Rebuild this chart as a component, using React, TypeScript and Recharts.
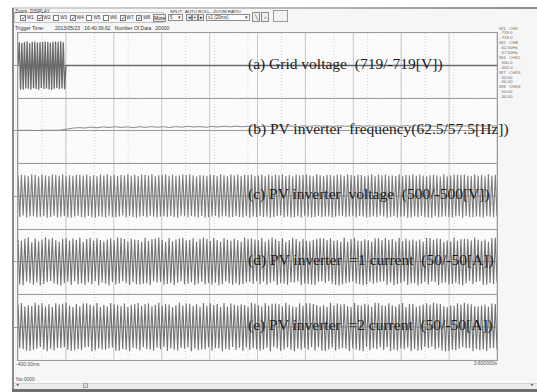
import React from 'react';
import { LineChart, Line, XAxis, YAxis, CartesianGrid, ReferenceLine } from 'recharts';

// ---------- data ----------
const timeRange: [number, number] = [-0.4, 3.6];
const majorTimeTicks = [-0.4, 0, 0.4, 0.8, 1.2, 1.6, 2.0, 2.4, 2.8, 3.2, 3.6];
const startLabel = '-400.00ms';
const endLabel = '3.600000s';

// (a) grid voltage, sampled from -0.4 s to 0 s, then flat
const gridVoltage = [
  0, 512, -528, 496, -534, 521, -507, 538, -516, 493, -530, 524,
  -502, 531, -519, 508, -536, 514, -497, 527, -522, 533, -510, 518,
  -529, 501, -535, 523, -512, 530, -498, 526, -517, 535, -506, 515, -524, 0,
];
const gridVoltageAfter = [0, 0];

// (b) PV inverter frequency [Hz], -0.4 s .. 3.6 s
const pvFrequency = [
  60.02, 60.01, 60.02, 60.0, 60.01, 60.02, 60.01, 60.03,
  60.1, 60.18, 60.22, 60.19, 60.26, 60.21, 60.28, 60.23, 60.29, 60.24, 60.28, 60.22,
  60.29, 60.24, 60.3, 60.25, 60.29, 60.23, 60.3, 60.26, 60.32, 60.27, 60.3, 60.25,
  60.31, 60.27, 60.33, 60.28, 60.34, 60.29, 60.32, 60.35, 60.3, 60.34, 60.31, 60.36,
  60.32, 60.35, 60.3, 60.36, 60.32, 60.37, 60.33, 60.35, 60.31, 60.36, 60.32, 60.35,
  60.37, 60.33, 60.36, 60.31, 60.37, 60.34, 60.35, 60.32, 60.37, 60.34, 60.36, 60.33,
  60.35, 60.32, 60.37, 60.34, 60.36, 60.33, 60.35, 60.34, 60.37, 60.34, 60.36, 60.35,
];

// (c) PV inverter voltage [V]
const pvVoltage = [
  305, -318, 322, -296, 314, -327, 300, -312, 329, -305,
  318, -322, 296, -315, 326, -308, 311, -330, 302, -319,
  324, -299, 316, -325, 307, -313, 331, -302, 298, -321,
  313, -328, 305, -310, 323, -297, 319, -316, 308, -326,
  327, -304, 301, -320, 315, -331, 298, -309, 325, -314,
  310, -323, 329, -300, 306, -318, 321, -327, 303, -311,
  319, -296, 312, -324, 330, -306, 297, -317, 322, -329,
  304, -313, 326, -302, 317, -320, 309, -298, 328, -315,
  299, -327, 314, -311, 323, -305, 331, -319, 307, -300,
  321, -316, 303, -328, 311, -297, 325, -308, 318, -322,
  328, -301, 309, -314, 296, -326, 316, -303, 312, -330,
  306, -320, 327, -309, 319, -299, 302, -324, 330, -312,
  315, -307, 298, -321, 324, -316, 310, -302, 326, -318,
  301, -325, 320, -306, 313, -329, 327, -311, 304, -317,
  312, -301, 327, -319, 298, -310, 322, -328, 307, -316,
  325, -304, 313, -297, 330, -321, 301, -312, 318, -326,
  296, -318, 324, -308, 311, -329, 316, -300, 327, -313,
  309, -325, 300, -317, 328, -303, 314, -322, 297, -311,
  323, -309, 318, -330, 305, -315, 326, -299, 320, -307,
  302, -321, 331, -312, 316, -298, 308, -327, 324, -304,
  317, -314, 299, -326, 312, -319, 329, -305, 300, -323,
  326, -297, 315, -310, 321, -328, 304, -316, 310, -301,
  303, -324, 328, -315, 297, -307, 319, -330, 313, -320,
  330, -308, 306, -322, 325, -302, 311, -318, 299, -327,
  314, -330, 320, -300, 309, -323, 296, -313, 328, -306,
  300, -317, 312, -325, 327, -311, 322, -304, 316, -329,
  324, -303, 308, -318, 301, -320, 330, -309, 305, -314,
  318, -326, 297, -307, 329, -315, 306, -321, 323, -310,
];

// (d) PV inverter #1 current [A]
const pvCurrent1 = [
  33.5, -35.2, 31.8, -36.4, 34.9, -30.7, 36.8, -33.1, 29.6, -35.8,
  35.4, -32.2, 30.9, -36.9, 33.7, -34.6, 37.1, -31.4, 34.2, -29.8,
  36.3, -33.9, 32.5, -35.5, 30.4, -36.7, 34.8, -32.9, 35.9, -31.1,
  31.7, -36.2, 35.3, -30.6, 33.2, -34.8, 36.9, -33.4, 29.9, -35.7,
  34.6, -31.9, 36.5, -35.1, 32.3, -30.2, 35.8, -36.6, 33.0, -32.4,
  30.8, -34.3, 33.9, -36.8, 35.6, -31.6, 32.7, -35.3, 37.0, -33.7,
  36.1, -30.5, 34.4, -33.6, 31.2, -36.1, 35.0, -32.0, 33.8, -34.9,
  32.9, -35.9, 30.3, -34.1, 36.6, -33.3, 31.5, -36.3, 34.7, -30.9,
  35.2, -32.7, 36.7, -31.3, 33.4, -35.6, 30.0, -34.4, 36.2, -33.0,
  31.0, -36.5, 34.0, -32.6, 35.5, -30.1, 36.4, -35.0, 32.1, -34.2,
  33.6, -31.8, 35.7, -36.0, 30.6, -33.8, 34.5, -31.2, 36.9, -35.4,
  34.8, -33.2, 31.4, -35.8, 36.3, -32.5, 33.1, -36.9, 30.5, -34.7,
  36.0, -30.8, 33.3, -34.0, 31.9, -35.9, 35.1, -33.5, 32.8, -36.2,
  30.2, -35.0, 36.8, -32.3, 34.1, -31.5, 35.4, -34.6, 33.7, -30.4,
  32.6, -34.9, 36.2, -31.1, 30.8, -35.6, 33.9, -32.8, 36.7, -30.3,
  34.3, -36.1, 31.6, -33.4, 35.7, -34.0, 30.1, -35.9, 33.2, -31.9,
  36.5, -32.4, 34.7, -30.9, 31.3, -36.6, 35.1, -33.7, 32.0, -34.5,
  30.7, -35.3, 33.6, -36.3, 34.9, -31.2, 36.1, -30.6, 35.4, -33.1,
  33.0, -30.2, 35.9, -34.2, 31.8, -35.7, 32.5, -36.9, 30.4, -34.8,
  36.9, -33.6, 30.6, -32.1, 34.6, -30.8, 36.4, -33.9, 31.7, -35.1,
  31.4, -36.4, 34.1, -35.3, 33.0, -31.5, 30.2, -34.3, 35.8, -32.6,
  35.6, -31.0, 32.8, -30.4, 36.0, -35.8, 33.5, -32.2, 34.4, -36.5,
  30.9, -34.6, 36.6, -33.2, 31.1, -30.7, 35.3, -36.0, 32.4, -33.8,
  34.0, -32.9, 31.2, -36.7, 33.7, -34.1, 30.5, -31.6, 36.3, -35.5,
  36.2, -30.6, 33.4, -31.9, 35.2, -36.2, 34.8, -33.0, 30.0, -32.3,
  32.1, -35.4, 30.9, -34.7, 36.8, -32.8, 31.9, -35.2, 34.2, -36.8,
  35.0, -33.5, 34.6, -30.1, 32.2, -34.9, 36.5, -31.4, 33.3, -30.5,
  31.5, -36.0, 33.8, -35.7, 30.3, -33.1, 35.9, -34.4, 36.4, -32.0,
];

// (e) PV inverter #2 current [A]
const pvCurrent2 = [
  34.2, -31.6, 36.3, -33.8, 30.9, -35.7, 33.1, -36.4, 31.8, -34.5,
  36.7, -32.9, 33.5, -30.4, 35.8, -34.1, 31.2, -36.8, 34.6, -33.0,
  30.6, -35.4, 36.1, -31.9, 33.9, -32.3, 35.2, -30.8, 36.9, -34.7,
  32.4, -36.2, 30.3, -35.1, 34.8, -33.6, 31.5, -34.9, 35.5, -31.2,
  35.9, -30.1, 34.0, -36.6, 32.2, -35.3, 36.4, -32.6, 30.7, -33.9,
  33.3, -34.4, 31.0, -32.1, 36.5, -30.9, 34.3, -35.8, 32.9, -36.1,
  31.6, -33.2, 35.6, -34.8, 30.2, -36.3, 33.7, -31.4, 35.0, -32.8,
  36.2, -35.5, 32.1, -30.6, 34.9, -33.4, 36.0, -34.2, 31.3, -35.9,
  33.8, -31.1, 36.6, -33.7, 32.5, -30.3, 35.3, -36.5, 34.1, -32.0,
  30.4, -34.6, 33.0, -35.6, 36.8, -31.7, 32.6, -33.1, 35.7, -30.7,
  35.1, -36.9, 31.9, -32.4, 34.4, -35.2, 30.8, -34.0, 36.3, -33.5,
  32.3, -30.5, 35.9, -36.0, 33.2, -31.8, 34.7, -32.7, 30.1, -36.7,
  36.4, -33.3, 31.1, -34.3, 35.4, -30.2, 33.6, -35.0, 32.0, -31.5,
  34.5, -36.4, 33.4, -31.0, 30.5, -34.8, 36.7, -32.2, 35.6, -33.6,
  33.1, -35.8, 30.9, -34.0, 36.4, -31.5, 32.7, -36.6, 35.2, -30.2,
  35.6, -32.4, 34.5, -36.2, 31.4, -33.9, 36.8, -30.9, 33.6, -35.0,
  31.2, -36.7, 30.4, -33.1, 35.9, -34.8, 32.0, -31.3, 36.1, -34.3,
  36.0, -30.8, 34.7, -35.5, 33.3, -30.5, 31.1, -35.9, 32.8, -36.4,
  30.7, -34.1, 36.6, -31.0, 32.5, -36.0, 35.4, -33.3, 34.0, -31.8,
  34.9, -33.0, 31.7, -36.5, 30.1, -32.6, 36.3, -34.6, 33.4, -35.4,
  32.2, -36.8, 35.1, -30.3, 34.2, -35.1, 30.6, -32.2, 36.7, -33.8,
  36.5, -31.2, 33.0, -34.9, 31.6, -30.6, 35.8, -36.3, 32.9, -34.4,
  31.0, -35.7, 34.6, -32.5, 36.2, -33.6, 30.2, -31.1, 35.0, -36.9,
  35.3, -33.4, 30.8, -36.1, 32.3, -34.7, 33.9, -30.4, 36.0, -31.9,
  33.5, -30.0, 36.9, -33.5, 35.5, -31.4, 34.8, -35.6, 31.3, -36.6,
  30.3, -36.3, 32.6, -34.5, 31.8, -35.2, 36.1, -32.9, 33.7, -30.1,
  36.6, -32.0, 35.2, -31.7, 34.3, -36.8, 31.5, -33.2, 30.9, -35.3,
  32.1, -34.2, 33.8, -36.4, 30.6, -32.4, 35.7, -31.6, 34.9, -33.7,
];

const panelTitles = [
  '(a) Grid voltage  (719/-719[V])',
  '(b) PV inverter  frequency(62.5/57.5[Hz])',
  '(c) PV inverter  voltage  (500/-500[V])',
  '(d) PV inverter  =1 current  (50/-50[A])',
  '(e) PV inverter  =2 current  (50/-50[A])',
];
const panelDomains: [number, number][] = [
  [-719, 719],
  [57.5, 62.5],
  [-500, 500],
  [-50, 50],
  [-50, 50],
];
const legendLines = [
  'W1   CH1', '  719.0', ' -719.0',
  'W2   CH8', '  62.50Hz', '  57.50Hz',
  'W4   CH11', '  500.0', ' -500.0',
  'W7   CH15', '  50.00', ' -50.00',
  'W8   CH16', '  50.00', ' -50.00',
];
const channelNames = ['W1', 'W2', 'W3', 'W4', 'W5', 'W6', 'W7', 'W8'];
const channelChecked = [true, true, false, true, false, false, true, true];
const triggerText = '2013/05/23   16:40:39.62   Number Of Data   20000';

// ---------- helpers ----------
type Pt = { t: number; v: number };
function sampled(values: number[], t0: number, t1: number): Pt[] {
  const n = values.length;
  return values.map((v, i) => ({ t: t0 + ((t1 - t0) * i) / (n - 1), v }));
}

const minorTimeTicks: number[] = [];
for (let i = 0; i <= 100; i++) minorTimeTicks.push(+(timeRange[0] + i * 0.04).toFixed(3));

const panelData: Pt[][] = [
  sampled(gridVoltage, -0.4, 0).concat(sampled(gridVoltageAfter, 0, 3.6)),
  sampled(pvFrequency, -0.4, 3.6),
  sampled(pvVoltage, -0.4, 3.6),
  sampled(pvCurrent1, -0.4, 3.6),
  sampled(pvCurrent2, -0.4, 3.6),
];

const PLOT_L = 18;
const PLOT_W = 479;
const panelTops = [33, 98, 163, 229, 294];
const panelHeights = [65, 65, 66, 65, 66];
const waveColors = ['#6a6a6a', '#8a8a8a', '#7c7c7c', '#727272', '#727272'];
const waveWidths = [1.3, 1, 1.1, 1.1, 1.1];

const sans = '"Liberation Sans", Arial, sans-serif';
const serif = '"Liberation Serif", "Times New Roman", serif';

function Panel({ idx }: { idx: number }) {
  const domain = panelDomains[idx];
  const span = domain[1] - domain[0];
  const yMinor: number[] = [];
  for (let i = 0; i <= 10; i++) yMinor.push(domain[0] + (span * i) / 10);
  const mid = (domain[0] + domain[1]) / 2;
  const h = panelHeights[idx];
  return (
    <div style={{ position: 'absolute', left: PLOT_L, top: panelTops[idx], width: PLOT_W, height: h }}>
      <LineChart width={PLOT_W} height={h} data={panelData[idx]} margin={{ top: 0, right: 0, bottom: 0, left: 0 }}>
        <XAxis xAxisId="maj" type="number" dataKey="t" domain={timeRange} ticks={majorTimeTicks} hide allowDataOverflow />
        <XAxis xAxisId="min" type="number" dataKey="t" domain={timeRange} ticks={minorTimeTicks} hide allowDataOverflow />
        <YAxis yAxisId="maj" type="number" domain={domain} ticks={[mid]} hide allowDataOverflow />
        <YAxis yAxisId="min" type="number" domain={domain} ticks={yMinor} hide allowDataOverflow />
        <CartesianGrid xAxisId="min" yAxisId="min" stroke="#d2d2d2" strokeDasharray="1 2" />
        <CartesianGrid xAxisId="maj" yAxisId="maj" stroke="#c8c8c8" horizontal={false} />
        <ReferenceLine xAxisId="maj" yAxisId="maj" y={mid} stroke="#9a9a9a" strokeWidth={1} />
        <Line
          xAxisId="maj"
          yAxisId="maj"
          type="linear"
          dataKey="v"
          stroke={waveColors[idx]}
          strokeWidth={waveWidths[idx]}
          dot={false}
          activeDot={false}
          isAnimationActive={false}
        />
      </LineChart>
    </div>
  );
}

function Tiny({ x, y, text, size = 5.2, color = '#333', align }: { x: number; y: number; text: string; size?: number; color?: string; align?: 'right' }) {
  const style: React.CSSProperties = {
    position: 'absolute',
    top: y,
    fontFamily: sans,
    fontSize: size,
    lineHeight: `${size + 1}px`,
    color,
    whiteSpace: 'pre',
  };
  if (align === 'right') style.right = 537 - x;
  else style.left = x;
  return <div style={style}>{text}</div>;
}

function Box({ x, y, w, h, bg = '#fdfdfd', border = '#8a8a8a', children }: { x: number; y: number; w: number; h: number; bg?: string; border?: string; children?: React.ReactNode }) {
  return (
    <div
      style={{
        position: 'absolute', left: x, top: y, width: w, height: h, boxSizing: 'border-box',
        border: `1px solid ${border}`, background: bg, fontFamily: sans, fontSize: 5, lineHeight: `${h - 2}px`,
        color: '#222', textAlign: 'center', whiteSpace: 'pre',
      }}
    >
      {children}
    </div>
  );
}

export default function App() {
  return (
    <div style={{ position: 'fixed', left: 0, top: 0, width: 537, height: 392, overflow: 'hidden', background: '#ffffff' }}>
      {/* window body */}
      <div style={{ position: 'absolute', left: 12, top: 8, width: 525, height: 384, background: '#f6f6f6' }} />
      <div style={{ position: 'absolute', left: 12, top: 7, width: 525, height: 2, background: 'linear-gradient(to right, #d8d8d8, #b4b4b4 60%, #8c8c8c)' }} />
      <div style={{ position: 'absolute', left: 12, top: 8, width: 2, height: 384, background: '#8a8a8a' }} />
      <div style={{ position: 'absolute', left: 12, top: 389, width: 525, height: 3, background: '#707070' }} />

      {/* toolbar */}
      <div style={{ position: 'absolute', left: 14, top: 12, width: 150, height: 11, border: '1px solid #c4c4c4', boxSizing: 'border-box' }} />
      <Tiny x={15} y={8.5} text="Zoom" size={4.8} />
      <Tiny x={30} y={8.5} text="DISPLAY" size={4.8} />
      {channelNames.map((n, i) => (
        <React.Fragment key={n}>
          <Box x={20 + i * 16.6} y={14.5} w={6} h={6} bg="#ffffff" border="#7a7a7a">
            <span style={{ fontSize: 6, lineHeight: '4px' }}>{channelChecked[i] ? '✓' : ''}</span>
          </Box>
          <Tiny x={27 + i * 16.6} y={14.5} text={n} size={4.6} />
        </React.Fragment>
      ))}
      <Box x={153} y={13.5} w={13} h={8} bg="#ececec">More</Box>
      <Tiny x={170} y={8.5} text="SPLIT" size={4.4} />
      <Tiny x={185} y={8.5} text="AUTO ROLL" size={4.4} />
      <Tiny x={209} y={8.5} text="---ZOOM RATIO" size={4.4} />
      <Box x={168} y={14} w={15} h={7} />
      <Tiny x={170} y={14.5} text="5" size={4.6} />
      <Tiny x={178} y={14.5} text="▾" size={4.6} />
      <Box x={186} y={14} w={6} h={7} bg="#ececec">◂</Box>
      <Box x={192} y={14} w={6} h={7} bg="#ececec">▪</Box>
      <Box x={198} y={14} w={6} h={7} bg="#ececec">▸</Box>
      <Box x={206} y={14} w={44} h={7} />
      <Tiny x={208} y={14.5} text="x1 (20ms)" size={4.6} />
      <Tiny x={245} y={14.5} text="▾" size={4.6} />
      <Box x={252} y={12} w={8} h={10} bg="#efefef">╲</Box>
      <Box x={261} y={12} w={8} h={10} bg="#efefef">⌕</Box>
      <Box x={273} y={10} w={15} h={12} bg="#f2f2f2" border="#9a9a9a" />

      <Tiny x={15} y={24.5} text="Trigger Time:" size={5} />
      <Tiny x={55} y={24.5} text={triggerText} size={5} />

      {/* plot frame */}
      <div style={{ position: 'absolute', left: PLOT_L, top: 33, width: PLOT_W, height: 327, background: '#fbfbfb' }} />
      {panelTitles.map((_, i) => (
        <Panel key={i} idx={i} />
      ))}
      <div style={{ position: 'absolute', left: PLOT_L - 1, top: 32, width: PLOT_W + 2, height: 329, border: '1px solid #9c9c9c', boxSizing: 'border-box' }} />
      {panelTops.slice(1).map((t) => (
        <div key={t} style={{ position: 'absolute', left: PLOT_L, top: t - 0.5, width: PLOT_W, height: 1.5, background: '#999999' }} />
      ))}
      {panelTops.map((t, i) => (
        <div key={`tk${i}`} style={{ position: 'absolute', left: 14, top: t + panelHeights[i] / 2 - 0.5, width: 4, height: 1, background: '#9a9a9a' }} />
      ))}

      {/* panel titles */}
      {panelTitles.map((title, i) => (
        <div
          key={title}
          style={{
            position: 'absolute', left: 248, top: panelTops[i] + panelHeights[i] / 2 - 10,
            fontFamily: serif, fontSize: 15.5, lineHeight: '16px', color: '#1e1e1e', whiteSpace: 'pre',
          }}
        >
          {title}
        </div>
      ))}

      {/* channel legend */}
      {legendLines.map((l, i) => (
        <Tiny key={i} x={499} y={25.5 + i * 4.9} text={l} size={4.4} color="#6a6a6a" />
      ))}

      {/* bottom */}
      <Tiny x={16} y={361} text={startLabel} size={5} color="#555" />
      <Tiny x={497} y={360} text={endLabel} size={5} color="#555" align="right" />
      <Tiny x={16} y={375.5} text="No.0000" size={5} color="#555" />
      <div style={{ position: 'absolute', left: 14, top: 382.5, width: 523, height: 6, background: '#ececec', borderTop: '1px solid #d6d6d6', boxSizing: 'border-box' }} />
      <Tiny x={16} y={382} text="◂" size={4.5} color="#555" />
      <div style={{ position: 'absolute', left: 83, top: 383, width: 5, height: 5, background: '#d8d8d8', border: '1px solid #a8a8a8', boxSizing: 'border-box' }} />
      <Tiny x={531} y={382} text="▸" size={4.5} color="#555" />
    </div>
  );
}
